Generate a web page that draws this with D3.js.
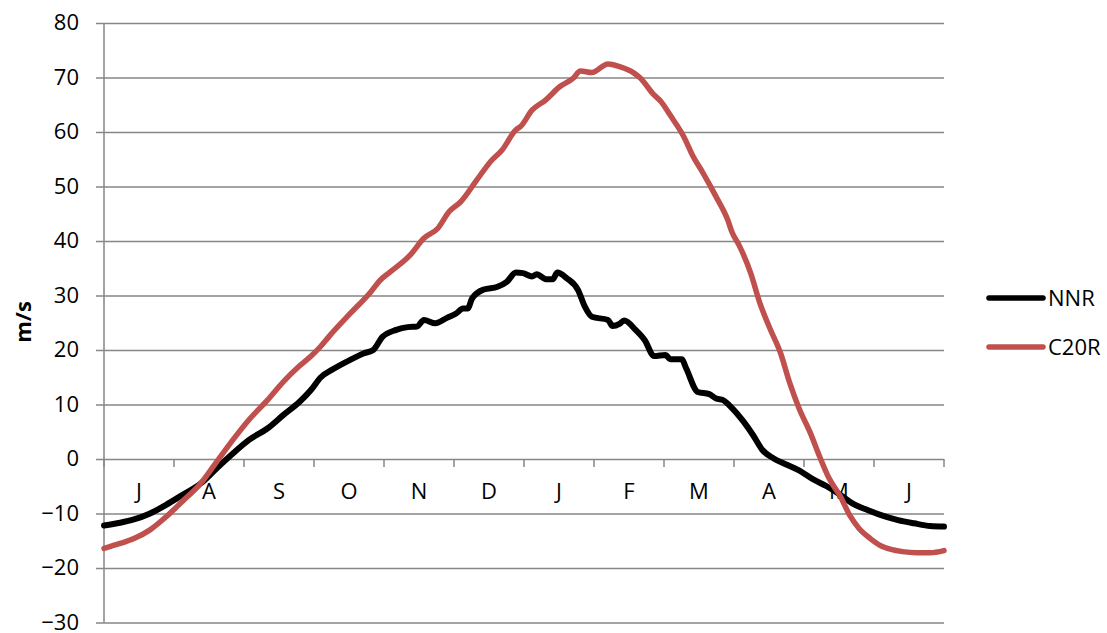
<!DOCTYPE html>
<html>
<head>
<meta charset="utf-8">
<script src="https://cdn.jsdelivr.net/npm/d3@7"></script>
<style>
  body { margin: 0; background: #fff; }
  text { font-family: "Open Sans", "Noto Sans", sans-serif; fill: #000; }
</style>
</head>
<body>
<div id="chart"></div>
<script>
// season runs July..June, x = day of season (0..365)
const months = ["J", "A", "S", "O", "N", "D", "J", "F", "M", "A", "M", "J"];
const yTicks = [-30, -20, -10, 0, 10, 20, 30, 40, 50, 60, 70, 80];

const nnrDays = [0, 7, 13, 20, 27, 34, 42, 49, 56, 63, 71, 78, 85, 90, 94, 100, 107, 113, 117, 121,
  127, 132, 136, 139, 144, 149, 153, 156, 158, 160, 165, 171, 175, 179, 182, 186, 188, 192, 195, 197,
  201, 206, 209, 212, 219, 221, 224, 226, 231, 235, 239, 244, 246, 251, 253, 258, 263, 266, 269, 273,
  278, 282, 286, 291, 297, 302, 308, 314, 320, 325, 332, 337, 345, 352, 359, 365];
const nnrValues = [-12.2, -11.7, -11.1, -10.0, -8.4, -6.6, -4.5, -1.7, 1.0, 3.5, 5.6, 8.1, 10.5, 12.7, 14.9, 16.6, 18.2, 19.4, 20.0, 22.4,
  23.7, 24.2, 24.3, 25.5, 24.9, 25.9, 26.7, 27.6, 27.6, 29.5, 31.1, 31.6, 32.5, 34.2, 34.1, 33.5, 33.9, 33.0, 33.0, 34.2,
  33.2, 31.0, 27.9, 26.1, 25.5, 24.4, 24.8, 25.4, 23.7, 21.8, 18.9, 19.1, 18.3, 18.3, 16.6, 12.3, 11.9, 11.1, 10.8, 9.3,
  6.8, 4.4, 1.7, 0.1, -1.1, -2.1, -3.7, -5.0, -6.6, -8.1, -9.4, -10.2, -11.2, -11.8, -12.3, -12.4];

const c20rDays = [0, 7, 13, 20, 27, 34, 42, 49, 56, 63, 71, 78, 85, 90, 94, 98, 107, 116, 120, 124,
  133, 139, 145, 150, 155, 162, 168, 173, 179, 181, 186, 192, 198, 204, 207, 212, 219, 224, 230, 233,
  239, 242, 246, 252, 256, 260, 266, 271, 273, 276, 281, 285, 289, 294, 298, 302, 307, 311, 315, 320,
  324, 328, 333, 337, 342, 347, 353, 359, 365];
const c20rValues = [-16.4, -15.5, -14.6, -13.0, -10.6, -7.8, -4.5, -0.5, 3.5, 7.2, 10.8, 14.2, 17.1, 18.9, 20.6, 22.6, 26.7, 30.7, 32.8, 34.2,
  37.4, 40.5, 42.3, 45.4, 47.2, 51.2, 54.6, 56.7, 60.4, 61.0, 64.0, 65.9, 68.3, 69.9, 71.2, 70.9, 72.5, 72.0, 70.9, 69.9,
  66.8, 65.6, 63.1, 59.1, 55.5, 52.7, 48.1, 43.9, 41.5, 39.2, 34.1, 28.6, 24.3, 19.4, 13.9, 9.3, 4.7, 0.4, -3.5, -6.9,
  -10.3, -12.7, -14.6, -15.8, -16.6, -17.0, -17.2, -17.2, -16.8];

const margin = { top: 23, right: 163, bottom: 10.5, left: 104 };
const width = 1107 - margin.left - margin.right;
const height = 633 - margin.top - margin.bottom;
const gridColor = "#868686";

const svg = d3.select("#chart")
  .append("svg")
  .attr("width", 1107)
  .attr("height", 633)
  .append("g")
  .attr("transform", `translate(${margin.left},${margin.top})`);

const x = d3.scaleLinear().domain([0, 365]).range([0, width]);
const y = d3.scaleLinear().domain([-30, 80]).range([height, 0]);
const xBand = d3.scaleBand().domain(d3.range(12)).range([0, width]);

// horizontal gridlines with left ticks
const yAxis = d3.axisLeft(y).tickValues(yTicks).tickSize(-width - 8).tickPadding(17);
svg.append("g")
  .attr("transform", "translate(-8,0)")
  .call(yAxis)
  .call(g => g.select(".domain").remove())
  .call(g => g.selectAll(".tick line")
    .attr("transform", "translate(8,0)")
    .attr("x1", -8)
    .attr("x2", width)
    .attr("stroke", gridColor)
    .attr("stroke-width", 1.5))
  .call(g => g.selectAll(".tick text")
    .attr("x", -17)
    .attr("dy", "0.3em")
    .style("font-size", "22px")
    .style("font-family", "'Open Sans', sans-serif")
    .attr("fill", "#000"));

// vertical axis line
svg.append("line")
  .attr("x1", 0).attr("x2", 0)
  .attr("y1", 0).attr("y2", height)
  .attr("stroke", gridColor)
  .attr("stroke-width", 1.5);

// month category axis sitting on zero
const xAxis = d3.axisBottom(xBand).tickSize(0).tickFormat(i => months[i]).tickPadding(24);
svg.append("g")
  .attr("transform", `translate(0,${y(0)})`)
  .call(xAxis)
  .call(g => g.select(".domain").remove())
  .call(g => g.selectAll(".tick text")
    .style("font-size", "22px")
    .style("font-family", "'Open Sans', sans-serif")
    .attr("fill", "#000"));

svg.append("g")
  .selectAll("line")
  .data(d3.range(13))
  .enter().append("line")
  .attr("x1", i => i * xBand.step())
  .attr("x2", i => i * xBand.step())
  .attr("y1", y(0))
  .attr("y2", y(0) + 8)
  .attr("stroke", gridColor)
  .attr("stroke-width", 1.5);

const line = d3.line()
  .x(d => x(d[0]))
  .y(d => y(d[1]))
  .curve(d3.curveMonotoneX);

const series = [
  { name: "NNR", color: "#000000", w: 6, pts: d3.zip(nnrDays, nnrValues) },
  { name: "C20R", color: "#C0504D", w: 5.5, pts: d3.zip(c20rDays, c20rValues) }
];

svg.selectAll(".series")
  .data(series)
  .enter().append("path")
  .attr("class", "series")
  .attr("d", d => line(d.pts))
  .attr("fill", "none")
  .attr("stroke", d => d.color)
  .attr("stroke-width", d => d.w)
  .attr("stroke-linejoin", "round")
  .attr("stroke-linecap", "round");

// legend
const legend = svg.append("g")
  .attr("transform", `translate(${989 - margin.left},${298 - margin.top})`);

const item = legend.selectAll("g")
  .data(series)
  .enter().append("g")
  .attr("transform", (d, i) => `translate(0,${i * 49})`);

item.append("line")
  .attr("x1", 0).attr("x2", 54)
  .attr("stroke", d => d.color)
  .attr("stroke-width", 5.5)
  .attr("stroke-linecap", "round");

item.append("text")
  .attr("x", 59)
  .attr("dy", "0.35em")
  .style("font-size", "22px")
  .text(d => d.name);

// y title
svg.append("text")
  .attr("transform", `translate(${23 - margin.left},${322 - margin.top}) rotate(-90)`)
  .attr("text-anchor", "middle")
  .attr("dy", "0.35em")
  .style("font-size", "22px")
  .style("font-weight", "bold")
  .text("m/s");
</script>
</body>
</html>
